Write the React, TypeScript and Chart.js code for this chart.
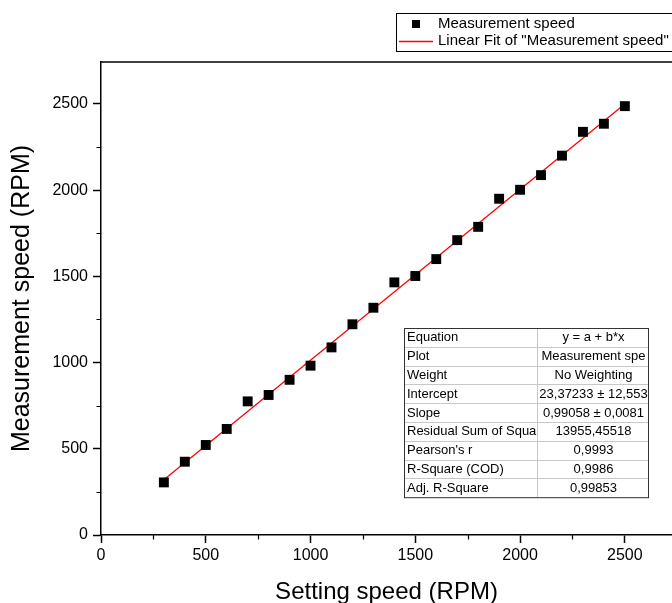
import React, { useEffect, useRef } from 'react';
import { Chart, registerables } from 'chart.js';

Chart.register(...registerables);

const settingSpeed = [300, 400, 500, 600, 700, 800, 900, 1000, 1100, 1200, 1300, 1400, 1500, 1600, 1700, 1800, 1900, 2000, 2100, 2200, 2300, 2400, 2500];
const measuredSpeed = [305, 425, 522, 615, 775, 812, 900, 982, 1088, 1222, 1318, 1465, 1502, 1600, 1710, 1787, 1950, 2002, 2087, 2200, 2338, 2385, 2487];
const fitIntercept = 23.37233;
const fitSlope = 0.99058;
const xTicks = [0, 500, 1000, 1500, 2000, 2500];
const yTicks = [0, 500, 1000, 1500, 2000, 2500];
const xMinorTicks = [250, 750, 1250, 1750, 2250];
const yMinorTicks = [250, 750, 1250, 1750, 2250];
const tableLabels = ['Equation', 'Plot', 'Weight', 'Intercept', 'Slope', 'Residual Sum of Squa', "Pearson's r", 'R-Square (COD)', 'Adj. R-Square'];
const tableValues = ['y = a + b*x', 'Measurement spe', 'No Weighting', '23,37233 ± 12,553', '0,99058 ± 0,0081', '13955,45518', '0,9993', '0,9986', '0,99853'];
const legendLabels = ['Measurement speed', 'Linear Fit of "Measurement speed"'];

const FONT = "'Liberation Sans', Arial, sans-serif";

const decorPlugin = {
  id: 'decor',
  afterDraw(chart: any) {
    const ctx = chart.ctx as CanvasRenderingContext2D;
    const xs = chart.scales.x;
    const ys = chart.scales.y;
    const a = chart.chartArea;
    ctx.save();
    // top frame
    ctx.strokeStyle = '#000';
    ctx.lineWidth = 1.5;
    ctx.beginPath();
    ctx.moveTo(a.left - 0.75, a.top);
    ctx.lineTo(a.right + 2, a.top);
    ctx.stroke();
    // minor ticks
    ctx.lineWidth = 1.2;
    ctx.beginPath();
    for (const v of xMinorTicks) {
      const px = Math.round(xs.getPixelForValue(v)) + 0.5;
      ctx.moveTo(px, a.bottom);
      ctx.lineTo(px, a.bottom + 4.5);
    }
    for (const v of yMinorTicks) {
      const py = Math.round(ys.getPixelForValue(v)) + 0.5;
      ctx.moveTo(a.left, py);
      ctx.lineTo(a.left - 4.5, py);
    }
    ctx.stroke();

    // table
    const tl = 404, tr = 648, tdiv = 537, tt = 328, rowH = 18.8;
    const tb = tt + rowH * tableLabels.length;
    ctx.fillStyle = '#fff';
    ctx.fillRect(tl, tt, tr - tl, tb - tt);
    ctx.strokeStyle = '#c8c8c8';
    ctx.lineWidth = 1;
    ctx.beginPath();
    for (let i = 1; i < tableLabels.length; i++) {
      const y = Math.round(tt + rowH * i) + 0.5;
      ctx.moveTo(tl, y);
      ctx.lineTo(tr, y);
    }
    ctx.moveTo(tdiv + 0.5, tt);
    ctx.lineTo(tdiv + 0.5, tb);
    ctx.stroke();
    ctx.strokeStyle = '#333';
    ctx.strokeRect(tl + 0.5, tt + 0.5, tr - tl, tb - tt);
    ctx.fillStyle = '#000';
    ctx.font = `13px ${FONT}`;
    ctx.textBaseline = 'middle';
    for (let i = 0; i < tableLabels.length; i++) {
      const cy = tt + rowH * i + rowH / 2 + 0.5;
      ctx.textAlign = 'left';
      ctx.fillText(tableLabels[i], tl + 3, cy);
      ctx.textAlign = 'center';
      ctx.fillText(tableValues[i], (tdiv + tr) / 2 + 1, cy);
    }

    // legend
    ctx.strokeStyle = '#000';
    ctx.lineWidth = 1;
    ctx.strokeRect(396.5, 13.5, 300, 38);
    ctx.fillStyle = '#000';
    ctx.fillRect(412, 20, 8, 8);
    ctx.strokeStyle = 'rgb(255,0,0)';
    ctx.lineWidth = 1.3;
    ctx.beginPath();
    ctx.moveTo(399, 41.5);
    ctx.lineTo(433, 41.5);
    ctx.stroke();
    ctx.fillStyle = '#000';
    ctx.font = `15px ${FONT}`;
    ctx.textAlign = 'left';
    ctx.textBaseline = 'middle';
    ctx.fillText(legendLabels[0], 438, 24);
    ctx.fillText(legendLabels[1], 438, 41);
    ctx.restore();
  },
};

export default function App() {
  const ref = useRef<HTMLCanvasElement | null>(null);
  useEffect(() => {
    if (!ref.current) return;
    const points = settingSpeed.map((x, i) => ({ x, y: measuredSpeed[i] }));
    const xFirst = settingSpeed[0];
    const xLast = settingSpeed[settingSpeed.length - 1];
    const fit = [
      { x: xFirst, y: fitIntercept + fitSlope * xFirst },
      { x: xLast, y: fitIntercept + fitSlope * xLast },
    ];
    const chart = new Chart(ref.current, {
      type: 'scatter',
      data: {
        datasets: [
          {
            label: legendLabels[1],
            data: fit,
            showLine: true,
            borderColor: '#ff0000',
            borderWidth: 1.3,
            pointRadius: 0,
            fill: false,
            order: 2,
          },
          {
            label: legendLabels[0],
            data: points,
            pointStyle: 'rect',
            pointRadius: 7,
            pointBackgroundColor: '#000',
            pointBorderWidth: 0,
            borderColor: '#000',
            showLine: false,
            order: 1,
          },
        ],
      },
      options: {
        responsive: false,
        animation: false,
        devicePixelRatio: 1,
        layout: { autoPadding: false, padding: { top: 62, left: 0, right: 0, bottom: 0 } },
        plugins: { legend: { display: false }, tooltip: { enabled: false } },
        scales: {
          x: {
            type: 'linear',
            min: 0,
            max: 2725,
            afterBuildTicks(scale: any) { scale.ticks = xTicks.map((v) => ({ value: v })); },
            ticks: {
              color: '#000',
              font: { family: FONT, size: 16 },
              padding: 3,
              maxRotation: 0,
              autoSkip: false,
              callback: (v: any) => String(v),
            },
            grid: { display: true, drawOnChartArea: false, drawTicks: true, tickLength: 8, tickWidth: 1.5, tickColor: '#000' },
            border: { display: true, color: '#000', width: 1.5 },
            title: { display: true, text: 'Setting speed (RPM)', color: '#000', font: { family: FONT, size: 24, lineHeight: 0.9 }, padding: { top: 0, bottom: 0 } },
            afterFit(scale: any) { scale.height = 68; },
          },
          y: {
            type: 'linear',
            min: 0,
            max: 2743,
            afterBuildTicks(scale: any) { scale.ticks = yTicks.map((v) => ({ value: v })); },
            ticks: {
              color: '#000',
              font: { family: FONT, size: 16 },
              padding: 5,
              autoSkip: false,
              callback: (v: any) => String(v),
            },
            grid: { display: true, drawOnChartArea: false, drawTicks: true, tickLength: 8, tickWidth: 1.5, tickColor: '#000' },
            border: { display: true, color: '#000', width: 1.5 },
            title: { display: true, text: 'Measurement speed (RPM)', color: '#000', font: { family: FONT, size: 25, lineHeight: 0.9 }, padding: { top: 11, bottom: 0 } },
            afterFit(scale: any) { scale.width = 101; },
          },
        },
      },
      plugins: [decorPlugin],
    });
    return () => chart.destroy();
  }, []);
  return (
    <div style={{ position: 'fixed', left: 0, top: 0, width: 672, height: 603, overflow: 'hidden', background: '#fff' }}>
      <canvas ref={ref} width={672} height={603} style={{ display: 'block' }} />
    </div>
  );
}
